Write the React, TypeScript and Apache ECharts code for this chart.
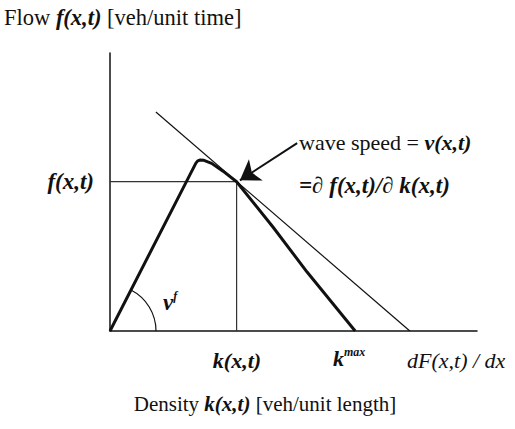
import { useEffect, useRef } from "react";
import * as echarts from "echarts";

// Fundamental diagram: density k (x) vs flow f (y), arbitrary units 0..100
const curveK = [0, 23.4, 23.9, 24.6, 25.6, 27.7, 30.8, 34.5, 44.4, 53.7, 66.8];
const curveF = [0, 60.4, 61.2, 61.5, 61.4, 60.3, 57.5, 53.7, 37.4, 21.2, 0];

// Operating point (k(x,t), f(x,t))
const pointK = 34.5;
const pointF = 53.7;

// Tangent (wave speed) line through the operating point
const tangentK = [12.5, 81.7];
const tangentF = [78.8, 0];

// Arrow from the wave speed label to the operating point
const arrowK = [51.0, 35.4];
const arrowF = [67.6, 54.2];

const SERIF = '"Liberation Serif", "Times New Roman", serif';
const INK = "#111";

export default function App() {
  const ref = useRef<HTMLDivElement>(null);

  useEffect(() => {
    document.body.style.margin = "0";
    const chart = echarts.init(ref.current!, null, { renderer: "svg" });

    const axisCommon = {
      type: "value" as const,
      min: 0,
      max: 100,
      axisLine: { show: true, lineStyle: { color: INK, width: 1.5 } },
      axisTick: { show: false },
      axisLabel: { show: false },
      splitLine: { show: false },
    };

    chart.setOption({
      animation: false,
      backgroundColor: "#fff",
      grid: { left: 110, right: 38, top: 53, bottom: 98 },
      xAxis: axisCommon,
      yAxis: axisCommon,
      series: [
        {
          type: "line",
          data: [
            [0, pointF],
            [pointK, pointF],
          ],
          symbol: "none",
          lineStyle: { color: "#333", width: 1.2 },
        },
        {
          type: "line",
          data: [
            [pointK, pointF],
            [pointK, 0],
          ],
          symbol: "none",
          lineStyle: { color: "#333", width: 1.2 },
        },
        {
          type: "line",
          data: tangentK.map((k, i) => [k, tangentF[i]]),
          symbol: "none",
          lineStyle: { color: INK, width: 1.2 },
        },
        {
          type: "line",
          data: curveK.map((k, i) => [k, curveF[i]]),
          symbol: "none",
          lineStyle: { color: INK, width: 3, join: "round" },
        },
        {
          type: "lines",
          coordinateSystem: "cartesian2d",
          symbol: ["none", "arrow"],
          symbolSize: 19,
          lineStyle: { color: INK, width: 2, opacity: 1 },
          data: [
            {
              coords: [
                [arrowK[0], arrowF[0]],
                [arrowK[1], arrowF[1]],
              ],
            },
          ],
        },
      ],
    });

    const origin = chart.convertToPixel({ gridIndex: 0 }, [0, 0]) as number[];
    const peak = chart.convertToPixel({ gridIndex: 0 }, [curveK[1], curveF[1]]) as number[];
    const lineAngle = Math.atan2(peak[1] - origin[1], peak[0] - origin[0]);

    const rich = {
      r: { fontFamily: SERIF, fontSize: 21, fill: INK },
      rl: { fontFamily: SERIF, fontSize: 22, fill: INK },
      t: { fontFamily: SERIF, fontSize: 22.5, fill: INK },
      ti: { fontFamily: SERIF, fontSize: 22.5, fontStyle: "italic", fontWeight: "bold", fill: INK },
      i: { fontFamily: SERIF, fontSize: 21, fontStyle: "italic", fontWeight: "bold", fill: INK },
      ib: { fontFamily: SERIF, fontSize: 22, fontStyle: "italic", fontWeight: "bold", fill: INK },
      iy: { fontFamily: SERIF, fontSize: 23, fontStyle: "italic", fontWeight: "bold", fill: INK },
      il: { fontFamily: SERIF, fontSize: 22, fontStyle: "italic", fill: INK },
      nu: { fontFamily: SERIF, fontSize: 23, fontStyle: "italic", fontWeight: "bold", fill: INK },
      s: { fontFamily: SERIF, fontSize: 12, fontStyle: "italic", fontWeight: "bold", fill: INK, verticalAlign: "top", lineHeight: 24 },
    };

    const text = (t: string, x: number, y: number, align = "left") => ({
      type: "text",
      style: { text: t, x, y, textAlign: align, textVerticalAlign: "middle", rich },
    });

    chart.setOption({
      graphic: [
        {
          type: "arc",
          shape: { cx: origin[0], cy: origin[1], r: 46, startAngle: lineAngle, endAngle: 0, clockwise: true },
          style: { stroke: INK, lineWidth: 1.2, fill: "none" },
        },
        text("{t|Flow }{ti|f(x,t)}{t| [veh/unit time]}", 4, 17),
        text("{iy|f(x,t)}", 94, 181, "right"),
        text("{rl|wave speed = }{ib|v(x,t)}", 299, 142),
        text("{iy|=∂ f(x,t)/∂ k(x,t)}", 299, 185),
        text("{ib|k(x,t)}", 237, 360, "center"),
        text("{ib|k}{s|max}", 333, 358),
        text("{il|dF(x,t) / dx}", 407, 360),
        text("{nu|ν}{s|f}", 163, 302),
        text("{r|Density }{i|k(x,t)}{r| [veh/unit length]}", 265, 404, "center"),
      ],
    });

    return () => chart.dispose();
  }, []);

  return <div ref={ref} style={{ position: "absolute", left: 0, top: 0, width: 515, height: 429 }} />;
}
